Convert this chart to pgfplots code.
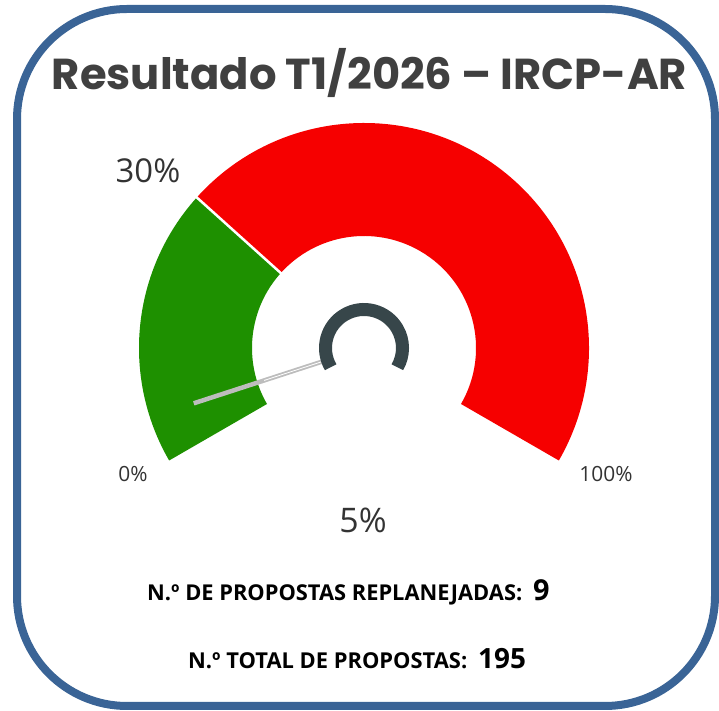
\documentclass[border=0pt]{standalone}
\usepackage{pgfplots}
\pgfplotsset{compat=1.18}
\usepackage{fontspec}
\setmainfont{Open Sans}
\newfontfamily\titlefont{Poppins}
\usetikzlibrary{calc}

\definecolor{frameblue}{HTML}{3A6496}
\definecolor{gaugegreen}{HTML}{1E9000}
\definecolor{gaugered}{HTML}{F60000}
\definecolor{hubgray}{HTML}{37464A}
\definecolor{needlegray}{HTML}{BDBDBD}
\definecolor{titlegray}{HTML}{404040}
\definecolor{labelgray}{HTML}{333333}

% gauge values (percent)
\def\gtarget{30}
\def\gvalue{5}
% gauge sweeps 240 degrees, from 210 (0%) to -30 (100%)
\pgfmathsetmacro\atarget{210-240*\gtarget/100}
\pgfmathsetmacro\avalue{210-240*\gvalue/100}

\begin{document}
\begin{tikzpicture}
\begin{axis}[
  x=1bp, y=1bp, xmin=0, xmax=719, ymin=0, ymax=711,
  scale only axis, hide axis, clip=false,
]
\path (axis cs:0,0) rectangle (axis cs:719,711);
% frame
\draw[frameblue, line width=8bp, rounded corners=110bp]
  (axis cs:17,5) rectangle (axis cs:715,702);

% gauge bands
\fill[gaugegreen] ([shift={(210:225bp)}]axis cs:364,363)
  arc[start angle=210, end angle=\atarget, radius=225bp]
  -- ([shift={(\atarget:112bp)}]axis cs:364,363)
  arc[start angle=\atarget, end angle=210, radius=112bp] -- cycle;
\fill[gaugered] ([shift={(\atarget:225bp)}]axis cs:364,363)
  arc[start angle=\atarget, end angle=-30, radius=225bp]
  -- ([shift={(-30:112bp)}]axis cs:364,363)
  arc[start angle=-30, end angle=\atarget, radius=112bp] -- cycle;
\draw[white, line width=2.5bp] ([shift={(\atarget:110bp)}]axis cs:364,363)
  -- ([shift={(\atarget:227bp)}]axis cs:364,363);

% needle and hub
\draw[needlegray, line width=4.5bp] ([shift={(\avalue:42bp)}]axis cs:364,363)
  -- ([shift={(\avalue:179bp)}]axis cs:364,363);
\draw[white, line width=0.8bp] ([shift={(\avalue:42bp)}]axis cs:364,363)
  -- ([shift={(\avalue:105bp)}]axis cs:364,363);
\draw[hubgray, line width=13bp] ([shift={(210:38.5bp)}]axis cs:364,363)
  arc[start angle=210, end angle=-30, radius=38.5bp];

% gauge labels
\node[anchor=base, text=labelgray, font=\fontsize{33}{33}\selectfont] at (axis cs:148,528) {30\%};
\node[anchor=base, text=labelgray, font=\fontsize{21}{21}\selectfont] at (axis cs:133,229) {0\%};
\node[anchor=base, text=labelgray, font=\fontsize{21}{21}\selectfont] at (axis cs:606,229) {100\%};
\node[anchor=base, text=labelgray, font=\fontsize{34}{34}\selectfont] at (axis cs:363,178) {5\%};

% title
\node[anchor=base, text=titlegray, inner sep=0pt] at (axis cs:369.5,621)
  {\resizebox{635bp}{!}{\titlefont\bfseries Resultado T1/2026 – IRCP-AR}};

% counts
\node[anchor=base west, inner sep=0pt] at (axis cs:147,110)
  {\resizebox{375bp}{!}{\bfseries N.º DE PROPOSTAS REPLANEJADAS:}};
\node[anchor=base west, inner sep=0pt, font=\fontsize{29}{29}\selectfont\bfseries] at (axis cs:533,110) {9};
\node[anchor=base west, inner sep=0pt] at (axis cs:188,42)
  {\resizebox{279bp}{!}{\bfseries N.º TOTAL DE PROPOSTAS:}};
\node[anchor=base west, inner sep=0pt, font=\fontsize{28}{28}\selectfont\bfseries] at (axis cs:478,42) {195};
\end{axis}
\end{tikzpicture}
\end{document}
